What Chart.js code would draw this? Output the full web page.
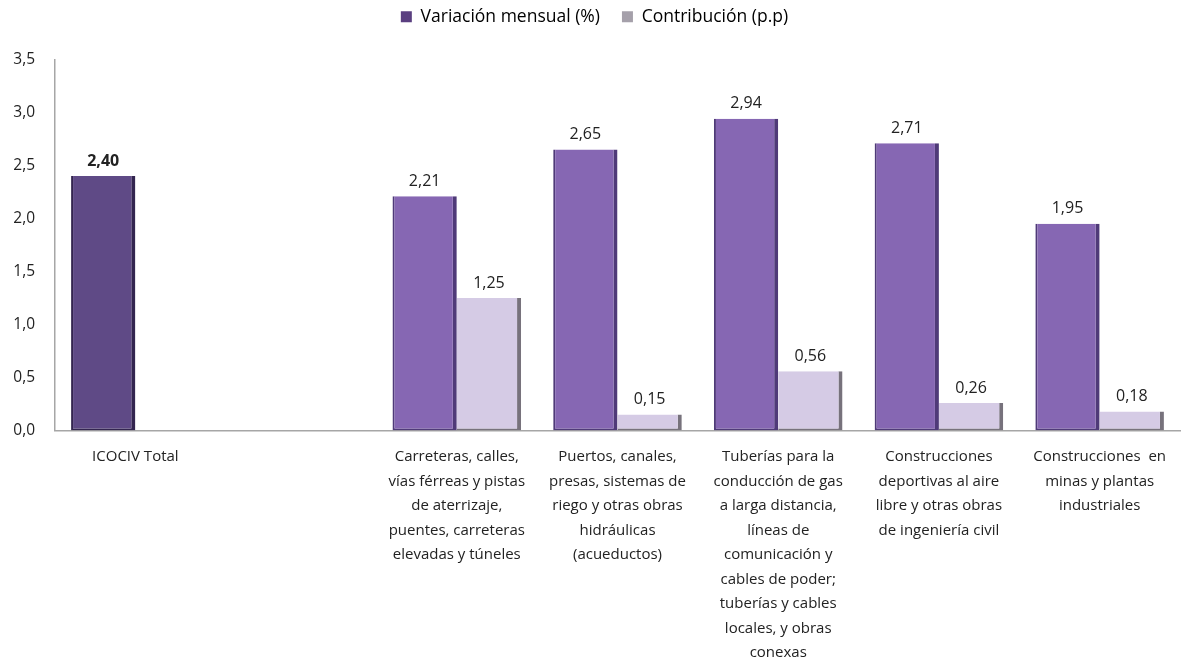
<!DOCTYPE html>
<html>
<head>
<meta charset="utf-8">
<script src="https://cdn.jsdelivr.net/npm/chart.js@4"></script>
<style>
  html, body { margin: 0; padding: 0; background: #fff; }
  #wrap { width: 1182px; height: 666px; }
</style>
</head>
<body>
<div id="wrap"><canvas id="chart"></canvas></div>
<script>
// categories (multi-line, as in the original)
const categories = [
    ['ICOCIV Total'],
    [''],
    ['Carreteras, calles,', 'vías férreas y pistas', 'de aterrizaje,', 'puentes, carreteras', 'elevadas y túneles'],
    ['Puertos, canales,', 'presas, sistemas de', 'riego y otras obras', 'hidráulicas', '(acueductos)'],
    ['Tuberías para la', 'conducción de gas', 'a larga distancia,', 'líneas de', 'comunicación y', 'cables de poder;', 'tuberías y cables', 'locales, y obras', 'conexas'],
    ['Construcciones', 'deportivas al aire', 'libre y otras obras', 'de ingeniería civil'],
    ['Construcciones  en', 'minas y plantas', 'industriales']
];
const variacionMensual = [2.40, null, 2.21, 2.65, 2.94, 2.71, 1.95];
const contribucion = [null, null, 1.25, 0.15, 0.56, 0.26, 0.18];
const yTicks = [0, 0.5, 1, 1.5, 2, 2.5, 3, 3.5];

const FONT = '"Open Sans", sans-serif';
const fmt = v => v.toFixed(2).replace('.', ',');

const valueLabels = {
    id: 'valueLabels',
    afterDatasetsDraw(chart) {
        const ctx = chart.ctx;
        ctx.save();
        ctx.textAlign = 'center';
        ctx.textBaseline = 'bottom';
        ctx.fillStyle = '#222';
        chart.data.datasets.forEach((ds, di) => {
            const meta = chart.getDatasetMeta(di);
            meta.data.forEach((bar, i) => {
                const v = ds.data[i];
                if (v === null || v === undefined) return;
                ctx.font = (di === 0 && i === 0 ? 'bold ' : '') + '16px ' + FONT;
                ctx.fillText(fmt(v), bar.x, bar.y - 7);
            });
        });
        ctx.restore();
    }
};

// extra room under the legend
const legendGap = {
    id: 'legendGap',
    beforeInit(chart) {
        const fit = chart.legend.fit;
        chart.legend.fit = function () {
            fit.bind(chart.legend)();
            this.height += 24;
        };
    }
};

new Chart(document.getElementById('chart').getContext('2d'), {
    type: 'bar',
    data: {
        labels: categories,
        datasets: [
            {
                label: 'Variación mensual (%)',
                data: variacionMensual,
                backgroundColor: variacionMensual.map((v, i) => i === 0 ? '#5f4a86' : '#8667b3'),
                borderColor: variacionMensual.map((v, i) => i === 0 ? '#33254f' : '#4f3a78'),
                borderWidth: { left: 2, right: 4, top: 0, bottom: 2 },
                borderSkipped: false,
                categoryPercentage: 0.8,
                barPercentage: 1.0
            },
            {
                label: 'Contribución (p.p)',
                data: contribucion,
                backgroundColor: '#d5cbe5',
                borderColor: '#77727c',
                borderWidth: { left: 0, right: 4, top: 0, bottom: 2 },
                borderSkipped: false,
                categoryPercentage: 0.8,
                barPercentage: 1.0
            }
        ]
    },
    options: {
        responsive: true,
        maintainAspectRatio: false,
        animation: false,
        layout: { padding: { top: -14, right: 2, left: 9, bottom: -13 } },
        plugins: {
            legend: {
                display: true,
                position: 'top',
                labels: {
                    font: { family: FONT, size: 17.5 },
                    color: '#222',
                    boxWidth: 11,
                    boxHeight: 11,
                    padding: 22,
                    generateLabels(chart) {
                        return [
                            { text: 'Variación mensual (%)', fillStyle: '#5a3f80', strokeStyle: '#5a3f80', lineWidth: 0, hidden: false, datasetIndex: 0 },
                            { text: 'Contribución (p.p)', fillStyle: '#a5a0aa', strokeStyle: '#a5a0aa', lineWidth: 0, hidden: false, datasetIndex: 1 }
                        ];
                    }
                }
            },
            tooltip: { enabled: false }
        },
        scales: {
            x: {
                grid: { display: false, drawTicks: false },
                border: { color: '#a6a6a6', width: 1.5 },
                afterFit(scale) {
                    scale.paddingLeft = 0;
                    scale.paddingRight = 0;
                },
                ticks: {
                    font: { family: FONT, size: 15, lineHeight: '24.5px' },
                    color: '#222',
                    padding: 14,
                    maxRotation: 0,
                    autoSkip: false
                }
            },
            y: {
                min: 0,
                max: 3.5,
                afterBuildTicks(axis) {
                    axis.ticks = yTicks.map(v => ({ value: v }));
                },
                afterFit(scale) {
                    scale.width = 46;
                },
                grid: { display: false, drawTicks: false },
                border: { color: '#a6a6a6', width: 1.5 },
                ticks: {
                    font: { family: FONT, size: 15.5 },
                    color: '#222',
                    padding: 20,
                    callback: v => v.toFixed(1).replace('.', ',')
                }
            }
        }
    },
    plugins: [valueLabels, legendGap]
});
</script>
</body>
</html>
